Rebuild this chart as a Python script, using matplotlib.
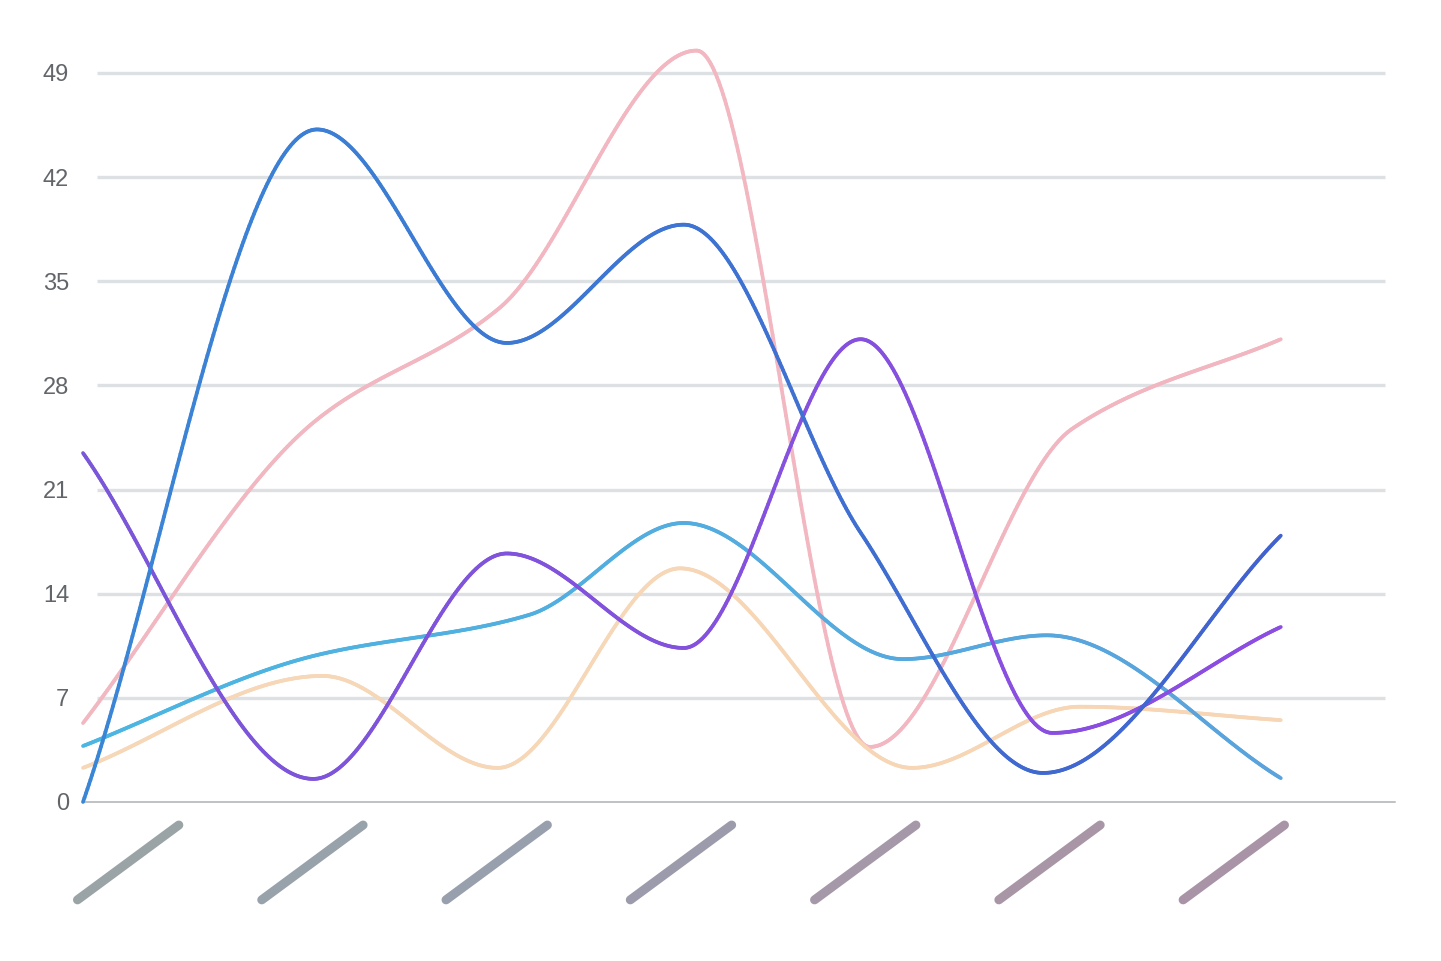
import numpy as np
import matplotlib
matplotlib.use("Agg")
import matplotlib.pyplot as plt
from matplotlib.collections import LineCollection
from matplotlib.colors import to_rgba
from matplotlib.transforms import blended_transform_factory

# y axis
y_ticks = [0, 7, 14, 21, 28, 35, 42, 49]

# x label slots (labels are unreadable bars in the reference)
label_pos = np.arange(7) + 0.245
label_colors = ["#9aa4a7", "#97a2aa", "#98a0ae", "#9b9bac", "#a598a8", "#a896a6", "#a894a6"]

# series, x in category units
blue_x = [0, 1.27, 2.30, 3.26, 4.22, 5.21, 6.5]
blue_y = [0, 45.2, 30.85, 38.8, 18.1, 1.95, 17.9]

purple_x = [0, 1.25, 2.30, 3.26, 4.22, 5.26, 6.5]
purple_y = [23.45, 1.55, 16.7, 10.35, 31.1, 4.64, 11.76]

pink_x = [0, 1.25, 2.26, 3.33, 4.27, 5.37, 6.5]
pink_y = [5.3, 25.5, 33.2, 50.5, 3.7, 25.1, 31.1]

cyan_x = [0, 1.23, 2.42, 3.26, 4.45, 5.23, 6.5]
cyan_y = [3.76, 9.75, 12.57, 18.75, 9.6, 11.2, 1.6]

orange_x = [0, 1.30, 2.25, 3.24, 4.50, 5.41, 6.5]
orange_y = [2.29, 8.47, 2.29, 15.7, 2.29, 6.4, 5.5]


def pchip(x, y, xs):
    x = np.asarray(x, float)
    y = np.asarray(y, float)
    h = np.diff(x)
    d = np.diff(y) / h
    n = len(x)
    m = np.zeros(n)
    for k in range(1, n - 1):
        if d[k - 1] * d[k] > 0:
            w1 = 2 * h[k] + h[k - 1]
            w2 = h[k] + 2 * h[k - 1]
            m[k] = (w1 + w2) / (w1 / d[k - 1] + w2 / d[k])
    m[0] = d[0]
    m[-1] = d[-1]
    idx = np.clip(np.searchsorted(x, xs) - 1, 0, n - 2)
    t = (xs - x[idx]) / h[idx]
    h00 = 2 * t**3 - 3 * t**2 + 1
    h10 = t**3 - 2 * t**2 + t
    h01 = -2 * t**3 + 3 * t**2
    h11 = t**3 - t**2
    return h00 * y[idx] + h10 * h[idx] * m[idx] + h01 * y[idx + 1] + h11 * h[idx] * m[idx + 1]


fig = plt.figure(figsize=(14.41, 9.61), dpi=100)
ax = fig.add_axes([0.0576, 0.1655, 0.9105, 0.8283])
ax.set_xlim(0, 7.12)
ax.set_ylim(0, 53.5)

ax.hlines(y_ticks[1:], 0.076, 7.065, color="#dde1e3", lw=2.4, zorder=1)
ax.axhline(0, color="#aeb2b5", lw=1.1, zorder=2, clip_on=False)

series = [
    (pink_x, pink_y, "#f2b8c1", "#f2b6c0"),
    (orange_x, orange_y, "#f6d7b7", "#f7d6b6"),
    (cyan_x, cyan_y, "#4cb6e2", "#5aa3dc"),
    (purple_x, purple_y, "#7a56d8", "#8c4de2"),
    (blue_x, blue_y, "#3a86d6", "#4262cf"),
]
for xs, ys, c0, c1 in series:
    xx = np.linspace(xs[0], xs[-1], 800)
    yy = pchip(xs, ys, xx)
    pts = np.column_stack([xx, yy]).reshape(-1, 1, 2)
    segs = np.concatenate([pts[:-1], pts[1:]], axis=1)
    f = np.linspace(0, 1, len(segs))[:, None]
    cols = (1 - f) * np.array(to_rgba(c0)) + f * np.array(to_rgba(c1))
    lc = LineCollection(segs, colors=cols, linewidths=2.7, capstyle="round", zorder=3, clip_on=False)
    ax.add_collection(lc)

for s in ax.spines.values():
    s.set_visible(False)
ax.set_xticks([])
ax.set_yticks(y_ticks)
ax.set_yticklabels([str(v) for v in y_ticks], fontsize=17, color="#62666a", family="Liberation Sans")
ax.tick_params(axis="y", length=0, pad=10)

trans = blended_transform_factory(ax.transData, ax.transAxes)
for p, c in zip(label_pos, label_colors):
    ax.plot([p - 0.275, p + 0.275], [-0.123, -0.029], transform=trans, color=c,
            lw=6.5, solid_capstyle="round", clip_on=False)

fig.savefig("out.png", dpi=100, facecolor="white")
